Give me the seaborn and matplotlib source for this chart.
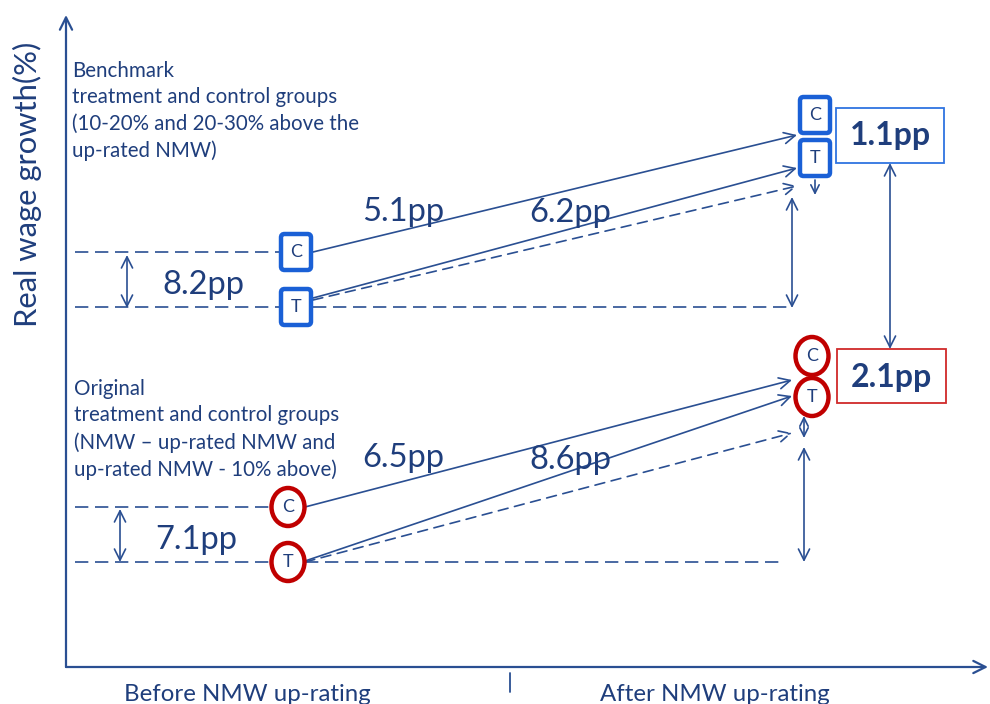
import matplotlib
matplotlib.use("Agg")
import matplotlib.pyplot as plt
from matplotlib.patches import FancyBboxPatch, Ellipse, Rectangle
import seaborn as sns
import pandas as pd

# schematic levels (arbitrary units of real wage growth)
groups = ["C", "T"]
x_before = 23.0
x_after = 74.9

bench_start = [41.5, 36.0]      # C, T before up-rating
bench_end = [55.2, 50.9]        # C, T after up-rating (marker level)
bench_tips = [53.2, 49.9, 48.1] # C, T, T counterfactual
bench_growth = ["5.1pp", "6.2pp"]
bench_gap = "8.2pp"
bench_did = "1.1pp"

orig_start = [16.0, 10.5]
orig_end = [31.1, 27.0]
orig_tips = [28.7, 27.1, 23.4]
orig_growth = ["6.5pp", "8.6pp"]
orig_gap = "7.1pp"
orig_did = "2.1pp"

periods = ["Before NMW up-rating", "After NMW up-rating"]
bench_text = "Benchmark\ntreatment and control groups\n(10-20% and 20-30% above the\nup-rated NMW)"
orig_text = "Original\ntreatment and control groups\n(NMW \u2013 up-rated NMW and\nup-rated NMW - 10% above)"

NAVY = "#1F3E7C"
LINE = "#2A4F92"
BLUE = "#1A60D6"
RED = "#C00000"

sns.set_theme(style="white")
plt.rcParams["font.family"] = ["Lato", "DejaVu Sans"]

fig = plt.figure(figsize=(9.9, 7.04), dpi=100)
ax = fig.add_axes([66 / 990, 37 / 704, 924 / 990, 652 / 704])

def arrow(x0, y0, x1, y1, style="->", ls="-", lw=1.2, ms=20):
    ax.annotate("", xy=(x1, y1), xytext=(x0, y0),
                arrowprops=dict(arrowstyle=style, color=LINE, lw=lw, ls=ls,
                                mutation_scale=ms, shrinkA=0, shrinkB=0),
                annotation_clip=False)

# dashed reference levels
rows = []
for name, lv, xs in [
    ("bC", bench_start[0], [0.9, 21.4]), ("bT", bench_start[1], [0.9, 21.4]),
    ("bT2", bench_start[1], [24.7, 72.4]),
    ("oC", orig_start[0], [0.9, 20.6]), ("oT", orig_start[1], [0.9, 20.6]),
    ("oT2", orig_start[1], [23.9, 71.4]),
]:
    for x in xs:
        rows.append({"line": name, "x": x, "y": lv})
ref = pd.DataFrame(rows)
sns.lineplot(data=ref, x="x", y="y", units="line", estimator=None, ax=ax,
             color=LINE, lw=1.2, linestyle=(0, (8, 4)), legend=False)
ax.set_xlim(0, 92.4)
ax.set_ylim(0, 65.2)
ax.axis("off")

# axes
arrow(0, 0, 0, 65.2, lw=1.6, ms=22)
arrow(0, 0, 92.2, 0, lw=1.6, ms=22)
ax.plot([44.4, 44.4], [-0.6, -2.5], color=LINE, lw=1.3, clip_on=False)
ax.text(18.1, -1.7, periods[0], ha="center", va="top", fontsize=17.3, color=NAVY)
ax.text(64.9, -1.7, periods[1], ha="center", va="top", fontsize=17.3, color=NAVY)
fig.text(27 / 990, 1 - 184 / 704, "Real wage growth(%)", rotation=90,
         ha="center", va="center", fontsize=22.3, color=NAVY)

# growth arrows
bx0, bx1 = 24.7, 73.1
arrow(bx0, bench_start[0], bx1, bench_tips[0])
arrow(bx0, bench_start[1] + 0.9, bx1, bench_tips[1])
arrow(bx0, bench_start[1] + 0.7, bx1, bench_tips[2], ls=(0, (6, 4)))
ox0, ox1 = 23.9, 72.6
arrow(ox0, orig_start[0], ox1, orig_tips[0])
arrow(ox0, orig_start[1] + 0.1, ox1, orig_tips[1])
arrow(ox0, orig_start[1], ox1, orig_tips[2], ls=(0, (6, 4)))

for lab, x, y in [(bench_growth[0], 33.7, 45.5), (bench_growth[1], 50.4, 45.4),
                  (orig_growth[0], 33.7, 20.9), (orig_growth[1], 50.4, 20.7),
                  (bench_gap, 13.7, 38.2), (orig_gap, 13.0, 12.7)]:
    ax.text(x, y, lab, ha="center", va="center", fontsize=23.5, color=NAVY)

# gap arrows
arrow(6.1, bench_start[0] - 0.3, 6.1, bench_start[1] - 0.1, style="<->")
arrow(5.4, orig_start[0] - 0.2, 5.4, orig_start[1], style="<->")
arrow(72.6, 47.0, 72.6, bench_start[1] - 0.1, style="<->")
arrow(74.9, 48.7, 74.9, 47.2, ms=15)
arrow(73.8, 25.1, 73.8, 22.9, style="<->", ms=15)
arrow(73.8, 22.0, 73.8, orig_start[1], style="<->")
arrow(82.4, 50.4, 82.4, 31.8, style="<->")

# markers
def box(x, y, lab):
    ax.add_patch(FancyBboxPatch((x - 1.5, y - 1.8), 3.0, 3.6,
                                boxstyle="round,pad=0,rounding_size=0.35",
                                fc="white", ec=BLUE, lw=3.2, zorder=5))
    ax.text(x, y, lab, ha="center", va="center", fontsize=13, color=NAVY, zorder=6)

def circ(x, y, lab):
    ax.add_patch(Ellipse((x, y), 3.3, 3.8, fc="white", ec=RED, lw=3.2, zorder=5))
    ax.text(x, y, lab, ha="center", va="center", fontsize=13, color=NAVY, zorder=6)

for g, yb, ya in zip(groups, bench_start, bench_end):
    box(x_before, yb, g)
    box(x_after, ya, g)
for g, yb, ya in zip(groups, orig_start, orig_end):
    circ(x_before - 0.8, yb, g)
    circ(x_after - 0.3, ya, g)

# difference-in-difference boxes
ax.add_patch(Rectangle((77.0, 50.4), 10.8, 5.5, fc="white", ec="#2F74E0", lw=1.3))
ax.text(82.4, 53.1, bench_did, ha="center", va="center", fontsize=23,
        fontweight="bold", color=NAVY)
ax.add_patch(Rectangle((77.1, 26.4), 10.9, 5.4, fc="white", ec="#D02A2A", lw=1.3))
ax.text(82.5, 29.0, orig_did, ha="center", va="center", fontsize=23,
        fontweight="bold", color=NAVY)

# group descriptions
ax.text(0.6, 60.6, bench_text, ha="left", va="top", fontsize=14.8,
        color=NAVY, linespacing=1.4)
ax.text(0.8, 28.8, orig_text, ha="left", va="top", fontsize=14.8,
        color=NAVY, linespacing=1.4)

fig.savefig("out.png", dpi=100)
